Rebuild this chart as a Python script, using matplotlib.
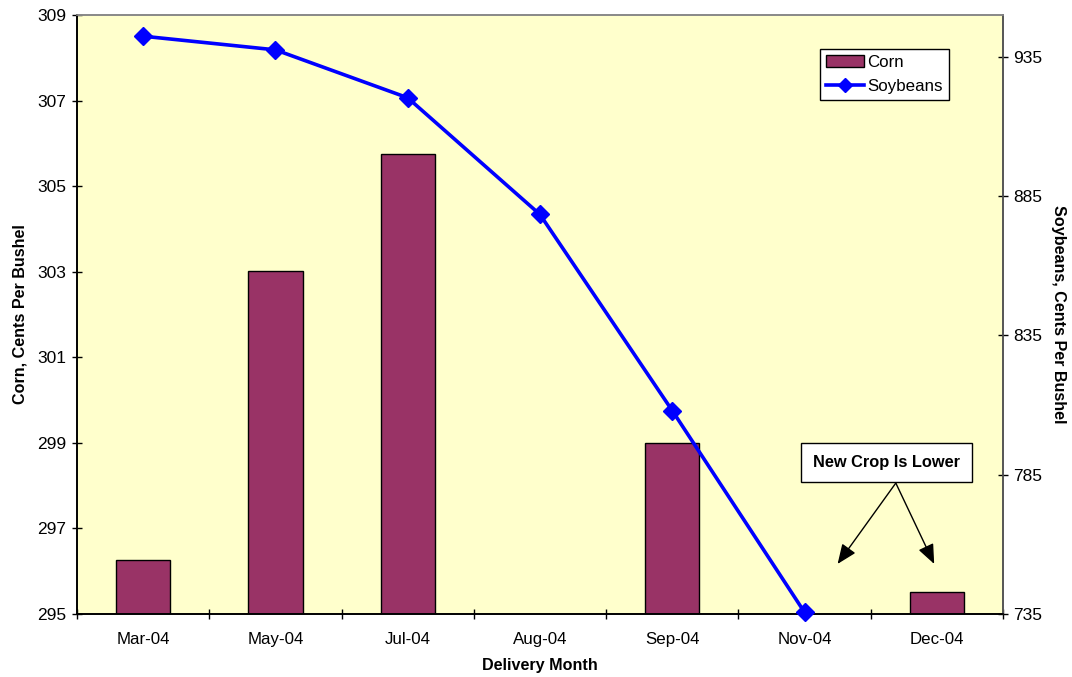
import matplotlib
matplotlib.use("Agg")
import matplotlib.pyplot as plt
import numpy as np

plt.rcParams['font.family'] = ['Liberation Sans', 'DejaVu Sans']

months = ["Mar-04", "May-04", "Jul-04", "Aug-04", "Sep-04", "Nov-04", "Dec-04"]
corn = [296.26, 303.02, 305.74, np.nan, 299.0, np.nan, 295.51]
soybeans = [942.4, 937.5, 920.3, 878.4, 808.0, 735.6, np.nan]
left_ticks = [295, 297, 299, 301, 303, 305, 307, 309]
right_ticks = [735, 785, 835, 885, 935]

bar_color = "#993366"
bg_color = "#FFFFCC"
line_color = "#0000FF"

fig = plt.figure(figsize=(10.72, 6.77), dpi=100)
ax = fig.add_axes([0.0718, 0.0931, 0.8638, 0.8847])
ax.set_facecolor(bg_color)

x = np.arange(len(months))
corn_vals = np.array(corn, dtype=float)
mask = ~np.isnan(corn_vals)
bars = ax.bar(x[mask], corn_vals[mask] - 295, bottom=295, width=0.41,
              color=bar_color, edgecolor="black", linewidth=1.0, label="Corn", zorder=2)

ax.set_xlim(-0.5, len(months) - 0.5)
ax.set_ylim(295, 309)
ax.set_yticks(left_ticks)
ax.set_xticks(x)
ax.set_xticklabels(months)
ax.set_xticks(np.arange(-0.5, len(months)), minor=True)
ax.tick_params(axis='x', which='major', length=0, pad=13, labelsize=12.2)
ax.tick_params(axis='x', which='minor', direction='inout', length=7, width=1)
ax.tick_params(axis='y', direction='inout', length=7, width=1, labelsize=12.5, pad=4)

ax.set_xlabel("Delivery Month", fontweight='bold', fontsize=11.6, labelpad=8)
ax.set_ylabel("Corn, Cents Per Bushel", fontweight='bold', fontsize=11.6, labelpad=7)

ax2 = ax.twinx()
soy_vals = np.array(soybeans, dtype=float)
smask = ~np.isnan(soy_vals)
line, = ax2.plot(x[smask], soy_vals[smask], color=line_color, linewidth=2.6,
                 marker='D', markersize=9.5, label="Soybeans", zorder=3, clip_on=False)
ax2.set_ylim(735, 950)
ax2.set_yticks(right_ticks)
ax2.tick_params(axis='y', direction='inout', length=7, width=1, labelsize=12.5, pad=4)
ax2.set_ylabel("Soybeans, Cents Per Bushel", fontweight='bold', fontsize=11.6,
               rotation=270, labelpad=17)

for a in (ax, ax2):
    a.spines['left'].set_color('black')
    a.spines['bottom'].set_color('black')
    a.spines['right'].set_color('#555555')
    a.spines['top'].set_color('#888888')
    for s in a.spines.values():
        s.set_linewidth(1.2)

leg = ax2.legend([bars, line], ["Corn", "Soybeans"], loc='upper left',
                 bbox_to_anchor=(0.8022, 0.943), fontsize=12.2, frameon=True,
                 fancybox=False, edgecolor='black', framealpha=1,
                 handlelength=2.25, handletextpad=0.2, borderpad=0.35,
                 labelspacing=0.5, borderaxespad=0, markerscale=0.8)
leg.get_frame().set_linewidth(1.0)

# callout and arrows pointing at the new-crop months
ax.text(5.62, 298.54, "New Crop Is Lower", ha='center', va='center',
        fontsize=11.8, fontweight='bold', zorder=5,
        bbox=dict(boxstyle='square,pad=0.75', facecolor='white', edgecolor='black', linewidth=1))
for tx in (5.25, 5.98):
    ax.annotate("", xy=(tx, 296.17), xytext=(5.69, 298.06),
                arrowprops=dict(arrowstyle='-|>,head_length=1.2,head_width=0.5',
                                mutation_scale=10, color='black', linewidth=1,
                                shrinkA=0, shrinkB=0),
                zorder=4)

fig.savefig("out.png", dpi=100)
